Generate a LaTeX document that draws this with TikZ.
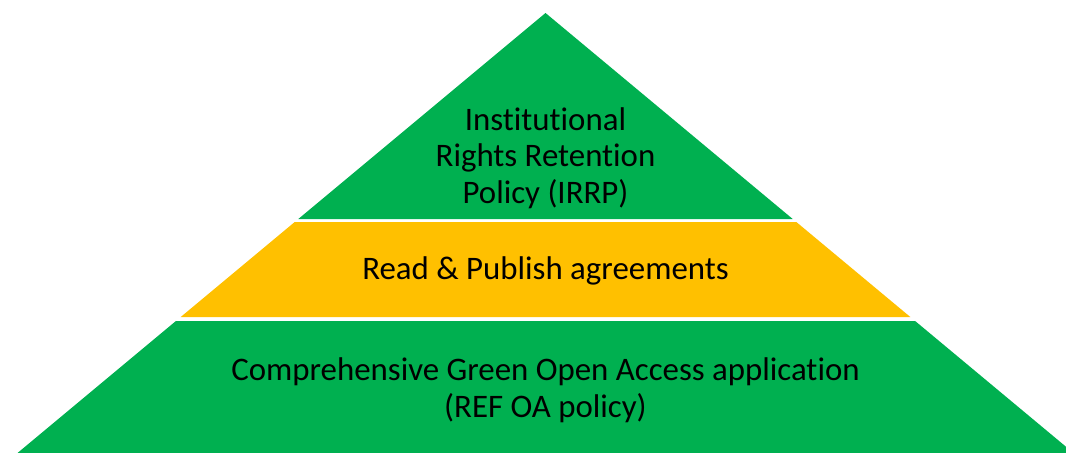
\documentclass[tikz,border=0pt]{standalone}
\usepackage{fontspec}
\setmainfont{Carlito}[Ligatures={NoCommon}]
\usetikzlibrary{positioning}

\definecolor{oagreen}{HTML}{00B050}
\definecolor{oayellow}{HTML}{FFC000}

\begin{document}
\begin{tikzpicture}[
    x=0.02cm,
    y=-0.02cm,
    layer/.style={draw=none},
    label text/.style={align=center,font=\fontsize{18.7}{20.8}\selectfont,text=black,inner sep=0pt}
]

% Canvas
\useasboundingbox (0,0) rectangle (1066,453);
\clip (0,0) rectangle (1066,453);

% Corner points
\coordinate (apex) at (545.5,13);
\coordinate (tl) at (298.3,219);
\coordinate (tr) at (792.7,219);
\coordinate (ml) at (294.7,222);
\coordinate (mr) at (796.3,222);
\coordinate (nl) at (180.7,317);
\coordinate (nr) at (910.3,317);
\coordinate (bl) at (175.9,321);
\coordinate (br) at (915.1,321);
\coordinate (fl) at (17.5,453);
\coordinate (fr) at (1073.5,453);

% Layers
\fill[layer,oagreen] (apex) -- (tr) -- (tl) -- cycle;
\fill[layer,oayellow] (ml) -- (mr) -- (nr) -- (nl) -- cycle;
\fill[layer,oagreen] (bl) -- (br) -- (fr) -- (fl) -- cycle;

% Labels
\node[label text] (irrp) at (545.5,158) {Institutional\\Rights Retention\\Policy (IRRP)};
\node[label text] (rap) at (545.5,271) {Read \& Publish agreements};
\node[label text] (goa) at (545.5,390) {Comprehensive Green Open Access application\\(REF OA policy)};

\end{tikzpicture}
\end{document}
